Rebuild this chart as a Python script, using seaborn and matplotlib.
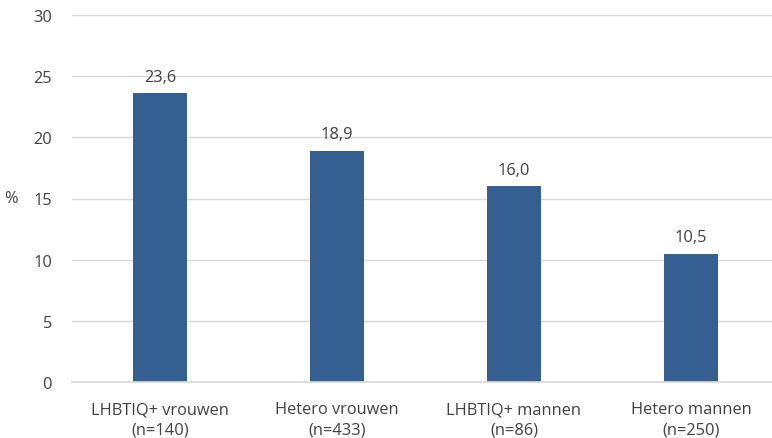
import matplotlib
matplotlib.use("Agg")
import matplotlib.pyplot as plt
import seaborn as sns
import pandas as pd

categories = ["LHBTIQ+ vrouwen\n(n=140)", "Hetero vrouwen\n(n=433)",
              "LHBTIQ+ mannen\n(n=86)", "Hetero mannen\n(n=250)"]
values = [23.6, 18.9, 16.0, 10.5]
yticks = [0, 5, 10, 15, 20, 25, 30]

sns.set_theme(style="white")
plt.rcParams["font.family"] = ["Open Sans", "DejaVu Sans"]

text_color = "#404040"
bar_color = "#365F91"
grid_color = "#D9D9D9"
fs = 11.8

df = pd.DataFrame({"groep": categories, "pct": values})

fig = plt.figure(figsize=(7.72, 4.39), dpi=100)
ax = fig.add_axes([71.5 / 772, 56 / 439, 708 / 772, 367 / 439])

sns.barplot(data=df, x="groep", y="pct", color=bar_color, width=0.31,
            saturation=1, linewidth=0, ax=ax, zorder=3)

ax.set_ylim(0, 30)
ax.set_xlim(-0.5, 3.5)
ax.set_yticks(yticks)
ax.set_yticklabels([str(t) for t in yticks], fontsize=fs, color=text_color)
ax.tick_params(axis="x", length=0, pad=14, labelsize=fs, labelcolor=text_color)
ax.tick_params(axis="y", length=0, pad=14)
for lbl in ax.get_xticklabels():
    lbl.set_linespacing(1.35)

ax.grid(axis="y", color=grid_color, linewidth=1, zorder=0)
for side in ["top", "right", "left"]:
    ax.spines[side].set_visible(False)
ax.spines["bottom"].set_color(grid_color)
ax.spines["bottom"].set_zorder(4)

ax.set_xlabel("")
ax.set_ylabel("%", rotation=0, fontsize=fs, color=text_color, labelpad=16,
              va="center")

for i, v in enumerate(values):
    ax.annotate(f"{v:.1f}".replace(".", ","), xy=(i, v), xytext=(0, 6),
                textcoords="offset points", ha="center", va="bottom",
                fontsize=fs, color=text_color)

fig.savefig("out.png", dpi=100)
